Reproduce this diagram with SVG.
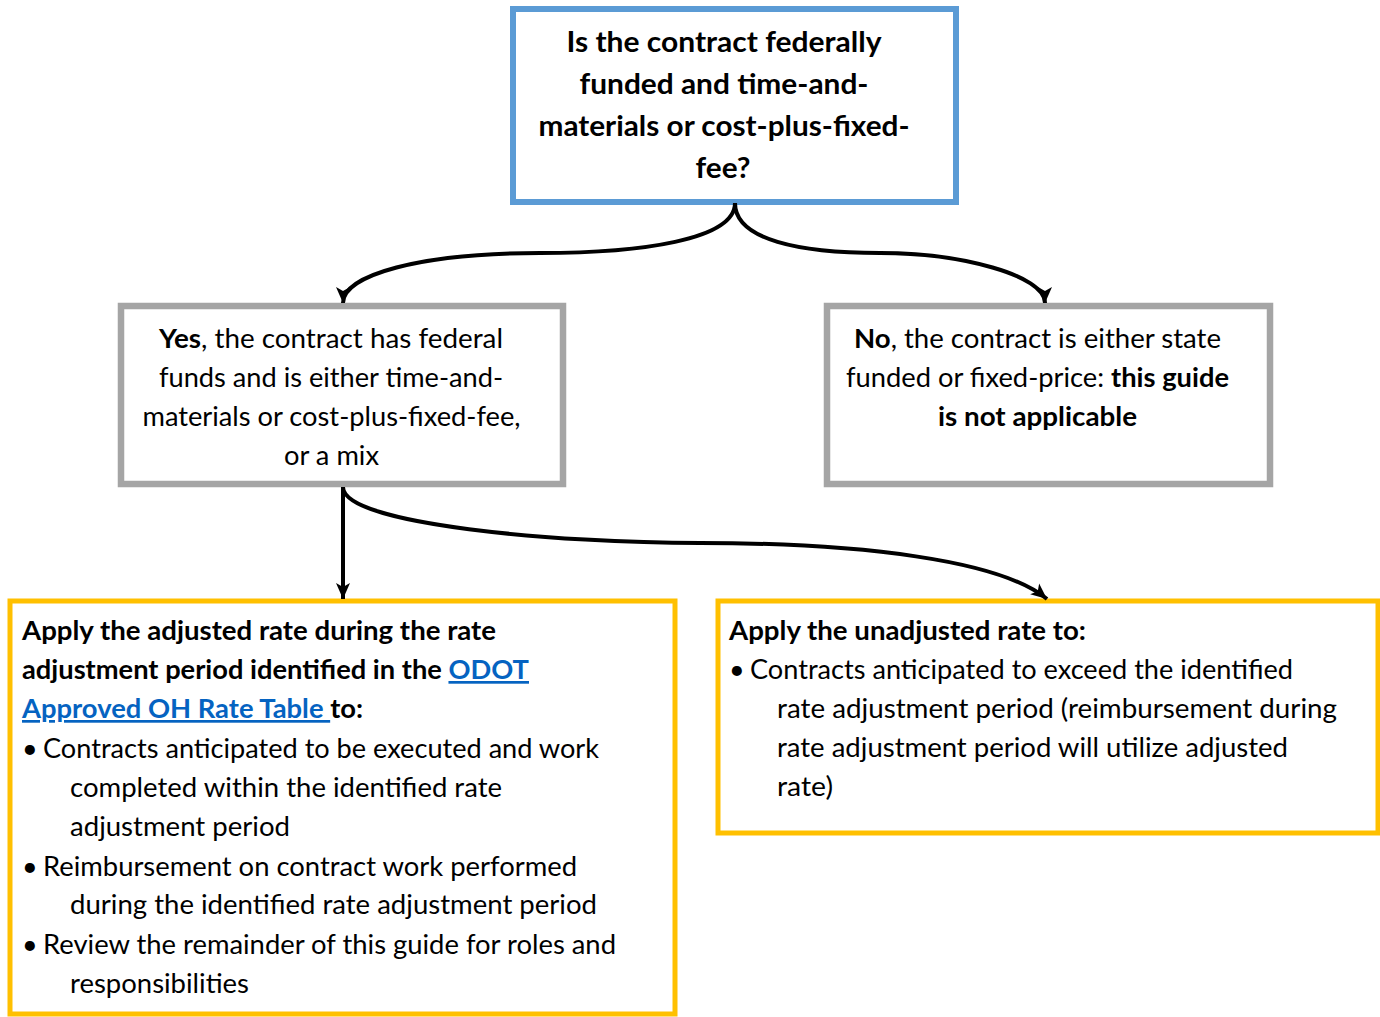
<svg xmlns="http://www.w3.org/2000/svg" width="1380" height="1017" viewBox="0 0 1380 1017">
<style>
text{font-family:Lato,"Open Sans","Liberation Sans",sans-serif;font-size:27px;fill:#000}
.t{font-size:28px}
.b{font-weight:bold}
.c{text-anchor:middle}
.lnk{fill:#0563C1;text-decoration:underline}
.blue{fill:#fff;stroke:#5B9BD5;stroke-width:6}
.gray{fill:#fff;stroke:#A5A5A5;stroke-width:6.5}
.orng{fill:#fff;stroke:#FFC000;stroke-width:5}
.con{fill:none;stroke:#000;stroke-width:4}
</style>
<defs>
<marker id="ah" viewBox="0 0 16 16" refX="16" refY="8" markerWidth="16" markerHeight="16" orient="auto" markerUnits="userSpaceOnUse">
<path d="M0,1 L16,8 L0,15 L4,8 z" fill="#000"/>
</marker>
</defs>
<g id="q">
<rect class="blue" x="513" y="9" width="443" height="193"/>
<text class="b c t" x="724" y="52" textLength="315" lengthAdjust="spacingAndGlyphs">Is the contract federally</text>
<text class="b c t" x="724" y="94" textLength="289" lengthAdjust="spacingAndGlyphs">funded and time-and-</text>
<text class="b c t" x="724" y="136" textLength="371" lengthAdjust="spacingAndGlyphs">materials or cost-plus-fixed-</text>
<text class="b c t" x="723" y="178" textLength="55" lengthAdjust="spacingAndGlyphs">fee?</text>
</g>
<g id="yes">
<rect class="gray" x="121" y="306" width="442" height="178"/>
<text class="c" x="331" y="348" textLength="344" lengthAdjust="spacingAndGlyphs"><tspan class="b">Yes</tspan>, the contract has federal</text>
<text class="c" x="331" y="387" textLength="344" lengthAdjust="spacingAndGlyphs">funds and is either time-and-</text>
<text class="c" x="331.5" y="426" textLength="378" lengthAdjust="spacingAndGlyphs">materials or cost-plus-fixed-fee,</text>
<text class="c" x="331.5" y="465" textLength="95" lengthAdjust="spacingAndGlyphs">or a mix</text>
</g>
<g id="no">
<rect class="gray" x="827" y="306" width="443" height="178"/>
<text class="c" x="1037.5" y="348" textLength="367" lengthAdjust="spacingAndGlyphs"><tspan class="b">No</tspan>, the contract is either state</text>
<text class="c" x="1037.5" y="387" textLength="383" lengthAdjust="spacingAndGlyphs">funded or fixed-price: <tspan class="b">this guide</tspan></text>
<text class="b c" x="1037.5" y="426" textLength="199" lengthAdjust="spacingAndGlyphs">is not applicable</text>
</g>
<g id="adj">
<rect class="orng" x="10" y="601" width="665" height="413"/>
<text class="b" x="22" y="640" textLength="474" lengthAdjust="spacingAndGlyphs">Apply the adjusted rate during the rate</text>
<text class="b" x="22" y="679" textLength="507" lengthAdjust="spacingAndGlyphs">adjustment period identified in the <tspan class="lnk">ODOT</tspan></text>
<text class="b" x="22" y="718" textLength="341" lengthAdjust="spacingAndGlyphs"><tspan class="lnk">Approved OH Rate Table </tspan>to:</text>
<text x="22" y="758">•</text>
<text x="43" y="758" textLength="556" lengthAdjust="spacingAndGlyphs">Contracts anticipated to be executed and work</text>
<text x="70" y="797" textLength="432" lengthAdjust="spacingAndGlyphs">completed within the identified rate</text>
<text x="70" y="836" textLength="220" lengthAdjust="spacingAndGlyphs">adjustment period</text>
<text x="22" y="876">•</text>
<text x="43" y="876" textLength="534" lengthAdjust="spacingAndGlyphs">Reimbursement on contract work performed</text>
<text x="70" y="914" textLength="527" lengthAdjust="spacingAndGlyphs">during the identified rate adjustment period</text>
<text x="22" y="954">•</text>
<text x="43" y="954" textLength="573" lengthAdjust="spacingAndGlyphs">Review the remainder of this guide for roles and</text>
<text x="70" y="993" textLength="179" lengthAdjust="spacingAndGlyphs">responsibilities</text>
</g>
<g id="unadj">
<rect class="orng" x="718" y="601" width="660" height="232"/>
<text class="b" x="729" y="640" textLength="357" lengthAdjust="spacingAndGlyphs">Apply the unadjusted rate to:</text>
<text x="729" y="679">•</text>
<text x="750" y="679" textLength="543" lengthAdjust="spacingAndGlyphs">Contracts anticipated to exceed the identified</text>
<text x="777" y="718" textLength="560" lengthAdjust="spacingAndGlyphs">rate adjustment period (reimbursement during</text>
<text x="777" y="757" textLength="511" lengthAdjust="spacingAndGlyphs">rate adjustment period will utilize adjusted</text>
<text x="777" y="796" textLength="56" lengthAdjust="spacingAndGlyphs">rate)</text>
</g>
<g id="connectors">
<path class="con" marker-end="url(#ah)" d="M735,203 C735,240 640,253 540,253 C420,253 343,275 343,303"/>
<path class="con" marker-end="url(#ah)" d="M735,203 C735,240 800,253 880,253 C960,253 1045,275 1045,303"/>
<path class="con" marker-end="url(#ah)" d="M343,487 L343,599"/>
<path class="con" marker-end="url(#ah)" d="M343,487 C343,525 560,543 700,543 C860,543 1000,560 1047,599"/>
</g>
</svg>
